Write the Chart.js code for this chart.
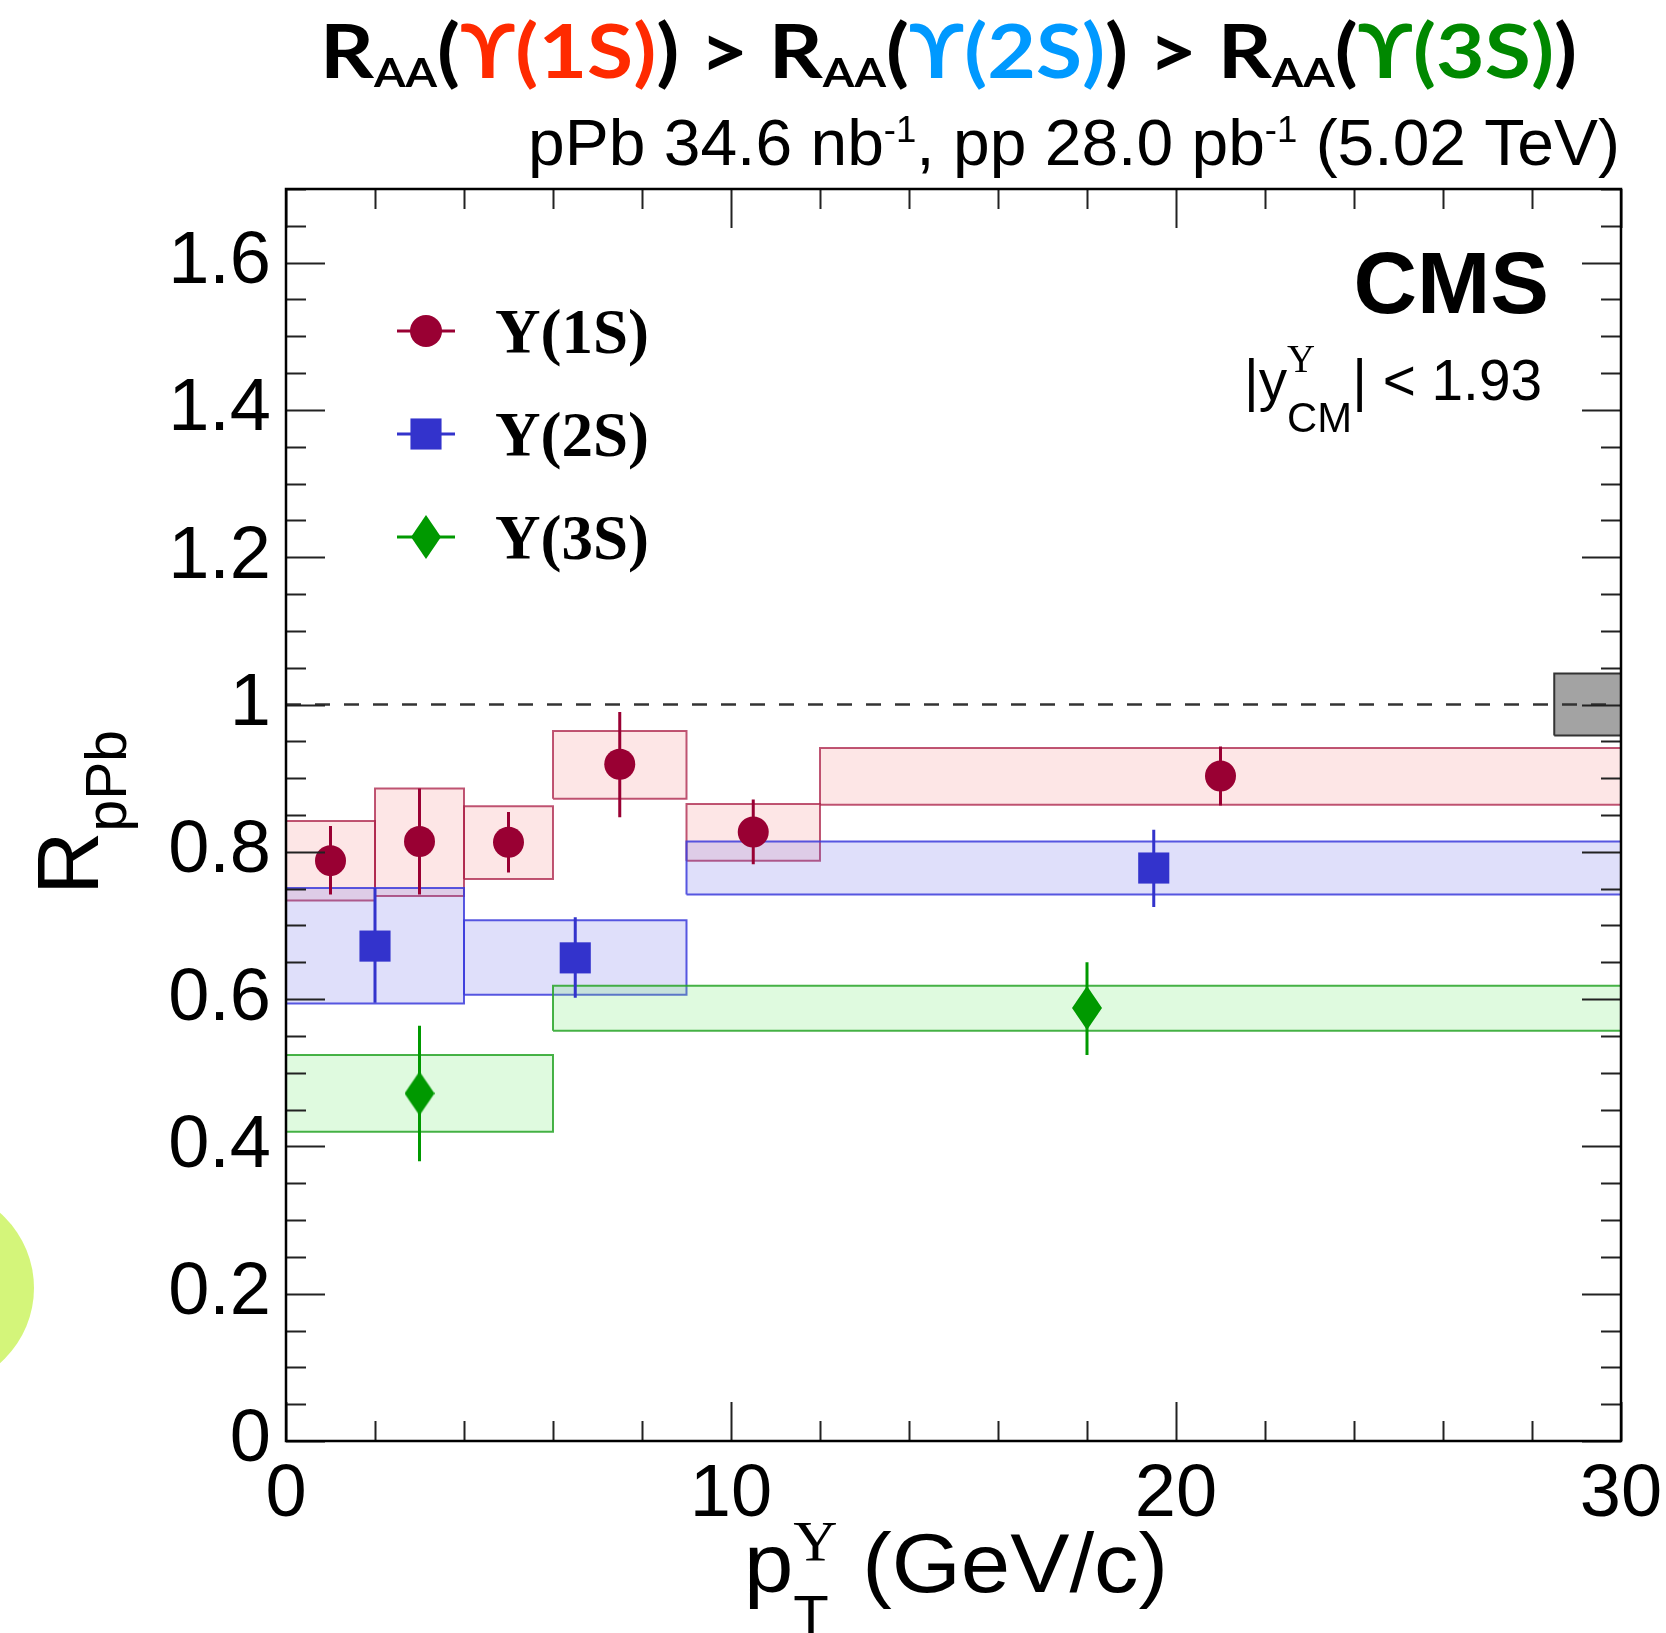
<!DOCTYPE html>
<html>
<head>
<meta charset="utf-8">
<script src="https://cdn.jsdelivr.net/npm/chart.js@4.4.1/dist/chart.umd.min.js"></script>
<style>
html, body { margin: 0; padding: 0; background: #fff; }
#wrap { position: relative; width: 1666px; height: 1633px; overflow: hidden; }
#blob { position: absolute; left: -166px; top: 1188px; width: 200px; height: 200px; border-radius: 50%; background: #d4f57a; }
canvas { position: absolute; left: 0; top: 0; }
</style>
</head>
<body>
<div id="wrap">
  <div id="blob"></div>
  <canvas id="raaChart" width="1666" height="1633"></canvas>
</div>
<script>
// Upsilon(1S)
var bins1S = [[0, 2], [2, 4], [4, 6], [6, 9], [9, 12], [12, 30]];
var pt1S = [1.0, 3.0, 5.0, 7.5, 10.5, 21.0];
var val1S = [0.788, 0.814, 0.813, 0.919, 0.827, 0.903];
var statLo1S = [0.742, 0.742, 0.772, 0.847, 0.783, 0.863];
var statHi1S = [0.835, 0.886, 0.854, 0.990, 0.871, 0.943];
var sysLo1S = [0.734, 0.740, 0.763, 0.872, 0.788, 0.864];
var sysHi1S = [0.842, 0.886, 0.862, 0.964, 0.865, 0.941];

// Upsilon(2S)
var bins2S = [[0, 4], [4, 9], [9, 30]];
var pt2S = [2.0, 6.5, 19.5];
var val2S = [0.672, 0.656, 0.778];
var statLo2S = [0.595, 0.602, 0.725];
var statHi2S = [0.751, 0.711, 0.830];
var sysLo2S = [0.594, 0.606, 0.742];
var sysHi2S = [0.751, 0.707, 0.814];

// Upsilon(3S)
var bins3S = [[0, 6], [6, 30]];
var pt3S = [3.0, 18.0];
var val3S = [0.472, 0.588];
var statLo3S = [0.380, 0.524];
var statHi3S = [0.564, 0.650];
var sysLo3S = [0.420, 0.557];
var sysHi3S = [0.524, 0.618];

// global uncertainty box and unity line
var globalBin = [28.5, 30];
var globalLo = 0.958, globalHi = 1.042;
var unityLine = [[0, 1], [30, 1]];

var xTicks = [0, 10, 20, 30];
var yTicks = [0, 0.2, 0.4, 0.6, 0.8, 1, 1.2, 1.4, 1.6];

var legendNames = ['\u03A5(1S)', '\u03A5(2S)', '\u03A5(3S)'];

var C1 = '#990033', C2 = '#3333cc', C3 = '#009900';
var SANS = "'Liberation Sans', Arial, sans-serif";
var SERIF = "'Liberation Serif', 'Times New Roman', serif";

// elongated diamond marker
var diamond = document.createElement('canvas');
diamond.width = 30; diamond.height = 44;
(function() {
    var d = diamond.getContext('2d');
    d.fillStyle = C3;
    d.beginPath();
    d.moveTo(15, 0); d.lineTo(30, 22); d.lineTo(15, 44); d.lineTo(0, 22);
    d.closePath();
    d.fill();
})();

function boxSet(bin, lo, hi, fill, line, order) {
    return {
        data: [{x: bin[0], y: lo}, {x: bin[1], y: lo}, {x: bin[1], y: hi}, {x: bin[0], y: hi}, {x: bin[0], y: lo}],
        fill: 'shape',
        backgroundColor: fill,
        borderColor: line,
        borderWidth: 2,
        borderJoinStyle: 'miter',
        pointRadius: 0,
        order: order
    };
}

function errSet(pt, lo, hi, color) {
    var d = [];
    pt.forEach(function(x, i) {
        d.push({x: x, y: lo[i]}, {x: x, y: hi[i]}, {x: x, y: null});
    });
    return { data: d, borderColor: color, borderWidth: 3, pointRadius: 0, spanGaps: false, fill: false, order: 3 };
}

function markSet(pt, val, color, style, radius) {
    return {
        data: pt.map(function(x, i) { return {x: x, y: val[i]}; }),
        showLine: false,
        pointStyle: style,
        pointRadius: radius,
        pointHoverRadius: radius,
        pointBackgroundColor: color,
        pointBorderColor: color,
        pointBorderWidth: 0,
        order: 1
    };
}

var datasets = [];
bins1S.forEach(function(b, i) {
    datasets.push(boxSet(b, sysLo1S[i], sysHi1S[i], 'rgba(245,130,130,0.2)', 'rgba(170,30,70,0.75)', 10));
});
bins2S.forEach(function(b, i) {
    datasets.push(boxSet(b, sysLo2S[i], sysHi2S[i], 'rgba(110,110,230,0.22)', 'rgba(60,60,220,0.85)', 9));
});
bins3S.forEach(function(b, i) {
    datasets.push(boxSet(b, sysLo3S[i], sysHi3S[i], 'rgba(110,230,110,0.22)', 'rgba(40,165,40,0.85)', 8));
});
datasets.push(boxSet(globalBin, globalLo, globalHi, '#a3a3a3', '#333333', 7));
datasets.push({
    data: unityLine.map(function(p) { return {x: p[0], y: p[1]}; }),
    borderColor: '#333', borderWidth: 2.5, borderDash: [15, 14], pointRadius: 0, fill: false, order: 6
});
datasets.push(errSet(pt1S, statLo1S, statHi1S, C1));
datasets.push(errSet(pt2S, statLo2S, statHi2S, C2));
datasets.push(errSet(pt3S, statLo3S, statHi3S, C3));
datasets.push(markSet(pt1S, val1S, C1, 'circle', 15.5));
datasets.push(markSet(pt2S, val2S, C2, 'rect', 22));
datasets.push(markSet(pt3S, val3S, C3, diamond, 15));

// rich text: runs of {text, font, color, dy, stack}
function drawRuns(ctx, runs, x0, y0, align, fitWidth) {
    var x = 0, pending = 0, items = [];
    runs.forEach(function(r) {
        ctx.font = r.font;
        var w = ctx.measureText(r.text).width;
        items.push({r: r, x: x});
        if (r.stack) { pending = w; } else { x += Math.max(w, pending); pending = 0; }
    });
    var sx = fitWidth ? fitWidth / x : 1;
    var w = x * sx;
    var start = align === 'right' ? x0 - w : (align === 'center' ? x0 - w / 2 : x0);
    ctx.save();
    ctx.translate(start, y0);
    ctx.scale(sx, 1);
    ctx.textAlign = 'left';
    ctx.textBaseline = 'alphabetic';
    items.forEach(function(it) {
        ctx.font = it.r.font;
        ctx.fillStyle = it.r.color || '#000';
        ctx.fillText(it.r.text, it.x, it.r.dy || 0);
    });
    ctx.restore();
}

var decorations = {
    id: 'decorations',
    afterDatasetsDraw: function(chart) {
        var ctx = chart.ctx, a = chart.chartArea, xs = chart.scales.x, ys = chart.scales.y;
        ctx.save();

        // inward ticks on all four sides
        ctx.strokeStyle = '#222';
        ctx.lineWidth = 2;
        ctx.beginPath();
        for (var i = 0; i <= 34; i++) {
            var py = Math.round(ys.getPixelForValue(i * 0.05)) + 0.5;
            var len = i % 4 === 0 ? 39 : 20;
            ctx.moveTo(a.left, py); ctx.lineTo(a.left + len, py);
            ctx.moveTo(a.right, py); ctx.lineTo(a.right - len, py);
        }
        for (var v = 0; v <= 30; v += 2) {
            var px = Math.round(xs.getPixelForValue(v)) + 0.5;
            var l2 = v % 10 === 0 ? 39 : 20;
            ctx.moveTo(px, a.bottom); ctx.lineTo(px, a.bottom - l2);
            ctx.moveTo(px, a.top); ctx.lineTo(px, a.top + l2);
        }
        ctx.stroke();
        ctx.lineWidth = 2.5;
        ctx.strokeStyle = '#000';
        ctx.strokeRect(a.left, a.top, a.right - a.left, a.bottom - a.top);

        // legend
        var lx = 426, rows = [331, 434, 537], cols = [C1, C2, C3];
        rows.forEach(function(ry, k) {
            ctx.strokeStyle = cols[k];
            ctx.lineWidth = 3;
            ctx.beginPath(); ctx.moveTo(397, ry); ctx.lineTo(455, ry); ctx.stroke();
            ctx.fillStyle = cols[k];
            if (k === 2) {
                ctx.drawImage(diamond, lx - 15, ry - 22);
            } else {
                Chart.helpers.drawPoint(ctx, {pointStyle: k === 0 ? 'circle' : 'rect', radius: k === 0 ? 16 : 22, rotation: 0, borderWidth: 0}, lx, ry);
            }
            drawRuns(ctx, [{text: legendNames[k], font: 'bold 63px ' + SERIF}], 495, ry + 22, 'left');
        });

        // CMS label and rapidity range
        drawRuns(ctx, [{text: 'CMS', font: 'bold 88px ' + SANS}], 1549, 313, 'right');
        drawRuns(ctx, [
            {text: '|y', font: '57px ' + SANS},
            {text: '\u03A5', font: '39px ' + SERIF, dy: -28, stack: true},
            {text: 'CM', font: '42px ' + SANS, dy: 32},
            {text: '| < 1.93', font: '57px ' + SANS}
        ], 1244, 400, 'left', 298);

        ctx.restore();
    },
    afterDraw: function(chart) {
        var ctx = chart.ctx;
        ctx.save();
        // headline
        var TF = "bold 74px Lato, 'DejaVu Sans', sans-serif", TS = "bold 40px Lato, 'DejaVu Sans', sans-serif";
        var runs = [];
        [['\u03D2(1S)', '#ff2a00'], ['\u03D2(2S)', '#0099ff'], ['\u03D2(3S)', '#008800']].forEach(function(s, k) {
            if (k > 0) runs.push({text: ' > ', font: TF});
            runs.push({text: 'R', font: TF}, {text: 'AA', font: TS, dy: 9}, {text: '(', font: TF},
                      {text: s[0], font: TF, color: s[1]}, {text: ')', font: TF});
        });
        drawRuns(ctx, runs, 320, 78, 'left', 1257);

        // luminosity line
        drawRuns(ctx, [
            {text: 'pPb 34.6 nb', font: '65px ' + SANS},
            {text: '-1', font: '36px ' + SANS, dy: -23},
            {text: ', pp 28.0 pb', font: '65px ' + SANS},
            {text: '-1', font: '36px ' + SANS, dy: -23},
            {text: ' (5.02 TeV)', font: '65px ' + SANS}
        ], 1620, 165, 'right', 1092);

        // x axis title
        drawRuns(ctx, [
            {text: 'p', font: '84px ' + SANS},
            {text: '\u03A5', font: '58px ' + SERIF, dy: -31, stack: true},
            {text: 'T', font: '55px ' + SANS, dy: 42},
            {text: ' (GeV/c)', font: '84px ' + SANS}
        ], 744, 1592, 'left', 424);

        // y axis title
        ctx.translate(98, 895);
        ctx.rotate(-Math.PI / 2);
        drawRuns(ctx, [
            {text: 'R', font: '88px ' + SANS},
            {text: 'pPb', font: '57px ' + SANS, dy: 28}
        ], 0, 0, 'left');
        ctx.restore();
    }
};

function fmt(v) { return String(Math.round(v * 10) / 10); }

var canvas = document.getElementById('raaChart');
var chart = new Chart(canvas.getContext('2d'), {
    type: 'line',
    data: { datasets: datasets },
    options: {
        responsive: false,
        animation: false,
        layout: { padding: { left: 0, top: 189, right: 45, bottom: 0 } },
        plugins: { legend: { display: false }, tooltip: { enabled: false } },
        scales: {
            x: {
                type: 'linear', min: 0, max: 30,
                grid: { display: false, drawTicks: false },
                border: { display: false },
                afterFit: function(s) { s.height = 192; s.paddingLeft = 0; s.paddingRight = 0; },
                afterBuildTicks: function(s) { s.ticks = xTicks.map(function(v) { return {value: v}; }); },
                ticks: { padding: 10, autoSkip: false, maxRotation: 0, color: '#000', font: { family: SANS, size: 74 }, callback: fmt }
            },
            y: {
                type: 'linear', min: 0, max: 1.7,
                grid: { display: false, drawTicks: false },
                border: { display: false },
                afterFit: function(s) { s.width = 286; s.paddingTop = 0; s.paddingBottom = 0; },
                afterBuildTicks: function(s) { s.ticks = yTicks.map(function(v) { return {value: v}; }); },
                ticks: { padding: 15, autoSkip: false, color: '#000', font: { family: SANS, size: 74 }, callback: fmt }
            }
        }
    },
    plugins: [decorations]
});
</script>
</body>
</html>
